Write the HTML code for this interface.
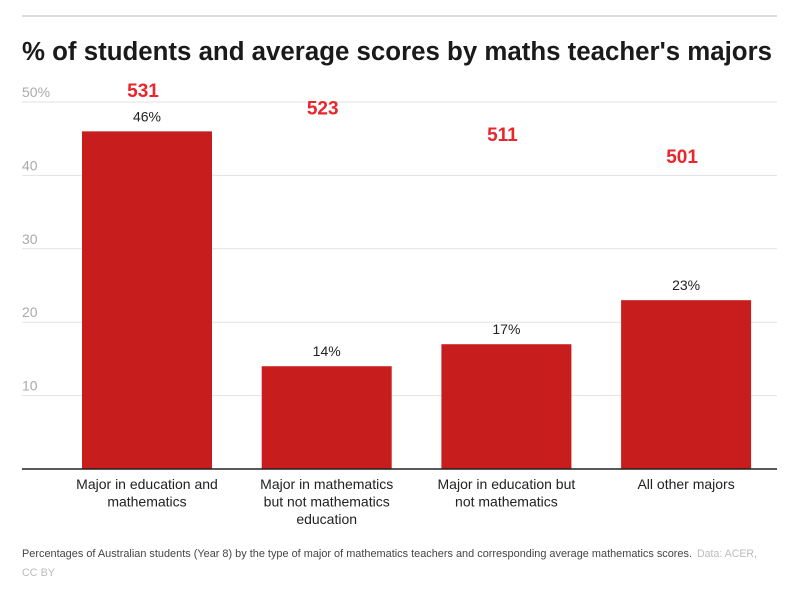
<!DOCTYPE html>
<html><head><meta charset="utf-8"><style>
body{margin:0;background:#fff;width:789px;height:595px;overflow:hidden;font-family:"Liberation Sans",sans-serif}
</style></head><body>
<svg width="789" height="595" xmlns="http://www.w3.org/2000/svg">
<line x1="22" y1="16" x2="777" y2="16" stroke="#bbb" stroke-width="1"/>
<text x="22" y="60" font-size="25.5" font-weight="bold" fill="#1a1a1a" textLength="750" lengthAdjust="spacingAndGlyphs">% of students and average scores by maths teacher's majors</text>
<g id="grid"></g>
<g id="bars"></g>
<line x1="22" y1="469" x2="777" y2="469" stroke="#222" stroke-width="1.5"/>
<text x="22" y="557" font-size="11" fill="#444" textLength="670" lengthAdjust="spacingAndGlyphs">Percentages of Australian students (Year 8) by the type of major of mathematics teachers and corresponding average mathematics scores.</text>
<text x="697" y="557" font-size="11" fill="#bbb" textLength="60" lengthAdjust="spacingAndGlyphs">Data: ACER,</text>
<text x="22" y="576" font-size="11" fill="#bbb" textLength="33" lengthAdjust="spacingAndGlyphs">CC BY</text>
</svg>
<script>
const categories=[["Major in education and","mathematics"],["Major in mathematics","but not mathematics","education"],["Major in education but","not mathematics"],["All other majors"]];
const percents=[46,14,17,23];
const scores=[531,523,511,501];
const yTicks=[10,20,30,40,50];
const ns="http://www.w3.org/2000/svg";
const y=v=>469-v*7.34;
const xc=i=>147+i*179.7;
const ys=s=>90+(531-s)*2.2;
function mk(t,a,p){const e=document.createElementNS(ns,t);for(const k in a)e.setAttribute(k,a[k]);p.appendChild(e);return e;}
const g=document.getElementById('grid'),b=document.getElementById('bars');
yTicks.forEach(t=>{
 const l=mk('line',{x1:22,x2:777,y1:y(t),y2:y(t),stroke:'#e2e2e2','stroke-width':1},g);
 
 
 const tx=mk('text',{x:22,y:y(t)-5,'font-size':14,fill:'#aaa'},g);
 tx.textContent=t===50?t+'%':t;
 
 
});
percents.forEach((v,i)=>{
 const r=mk('rect',{x:xc(i)-65,y:y(v),width:130,height:469-y(v),fill:'#c71e1d'},b);
 
 
 const lb=mk('text',{x:xc(i),y:y(v)-10,'text-anchor':'middle','font-size':14,fill:'#222'},b);
 lb.textContent=v+'%';
 
 
 const sc=mk('text',{x:xc(i)-4,y:ys(scores[i])+7,'text-anchor':'middle','font-size':19,'font-weight':'bold',fill:'#e8262b'},b);
 sc.textContent=scores[i];
 
 
 categories[i].forEach((ln,j)=>{
  const c=mk('text',{x:xc(i),y:489+j*17.5,'text-anchor':'middle','font-size':14,fill:'#222'},b);
  c.textContent=ln;
  
  
 });
});
</script>
</body></html>
